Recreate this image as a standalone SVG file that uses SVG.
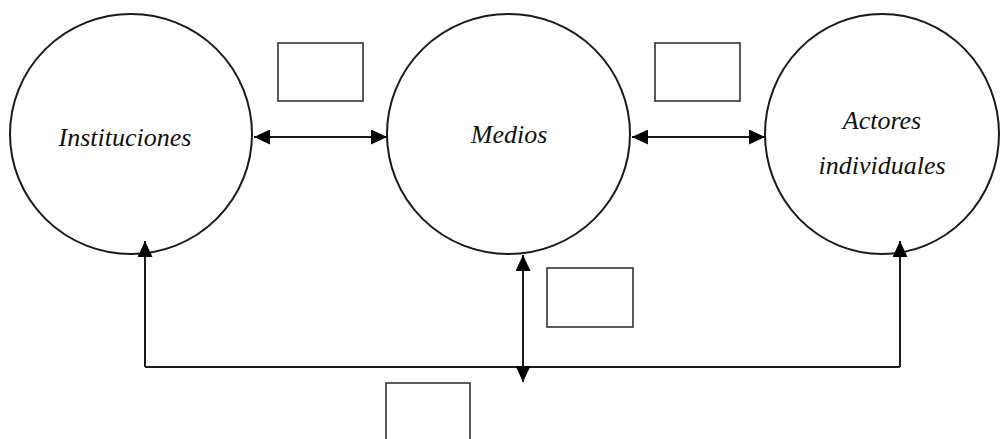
<svg xmlns="http://www.w3.org/2000/svg" width="1000" height="439" viewBox="0 0 1000 439">
<style>
.node{fill:#fff;stroke:#1a1a1a;stroke-width:2}
.box{fill:#fff;stroke:#333;stroke-width:1.6}
.lbl{font-family:"Liberation Serif",serif;font-style:italic;font-size:26px;fill:#111;text-anchor:middle}
.conn{fill:none;stroke:#1a1a1a;stroke-width:2}
</style>
<defs>
<marker id="ah" viewBox="0 0 16 15" refX="16" refY="7.5" markerWidth="16" markerHeight="15" markerUnits="userSpaceOnUse" orient="auto-start-reverse">
<path d="M0,0 L16,7.5 L0,15 Z" fill="#000"/>
</marker>
</defs>
<g id="instituciones">
<ellipse class="node" cx="131" cy="134" rx="121" ry="120"/>
<text class="lbl" x="125" y="146">Instituciones</text>
</g>
<g id="medios">
<ellipse class="node" cx="508.5" cy="134" rx="121.5" ry="120"/>
<text class="lbl" x="509" y="143">Medios</text>
</g>
<g id="actores">
<ellipse class="node" cx="882" cy="134" rx="117" ry="120"/>
<text class="lbl" x="882" y="129">Actores</text>
<text class="lbl" x="882" y="174">individuales</text>
</g>
<g id="box1"><rect class="box" x="278" y="43" width="85" height="58"/></g>
<g id="box2"><rect class="box" x="655" y="43" width="85" height="58"/></g>
<g id="box3"><rect class="box" x="547" y="268" width="86" height="59"/></g>
<g id="box4"><rect class="box" x="386" y="383" width="84" height="70"/></g>
<g id="connectors">
<path class="conn" d="M254,137 H387" marker-start="url(#ah)" marker-end="url(#ah)"/>
<path class="conn" d="M632,137 H765" marker-start="url(#ah)" marker-end="url(#ah)"/>
<path class="conn" d="M145,367 V241" marker-end="url(#ah)"/>
<path class="conn" d="M900,367 V241" marker-end="url(#ah)"/>
<path class="conn" d="M145,367 H900"/>
<path class="conn" d="M523,255 V382" marker-start="url(#ah)" marker-end="url(#ah)"/>
</g>
</svg>
